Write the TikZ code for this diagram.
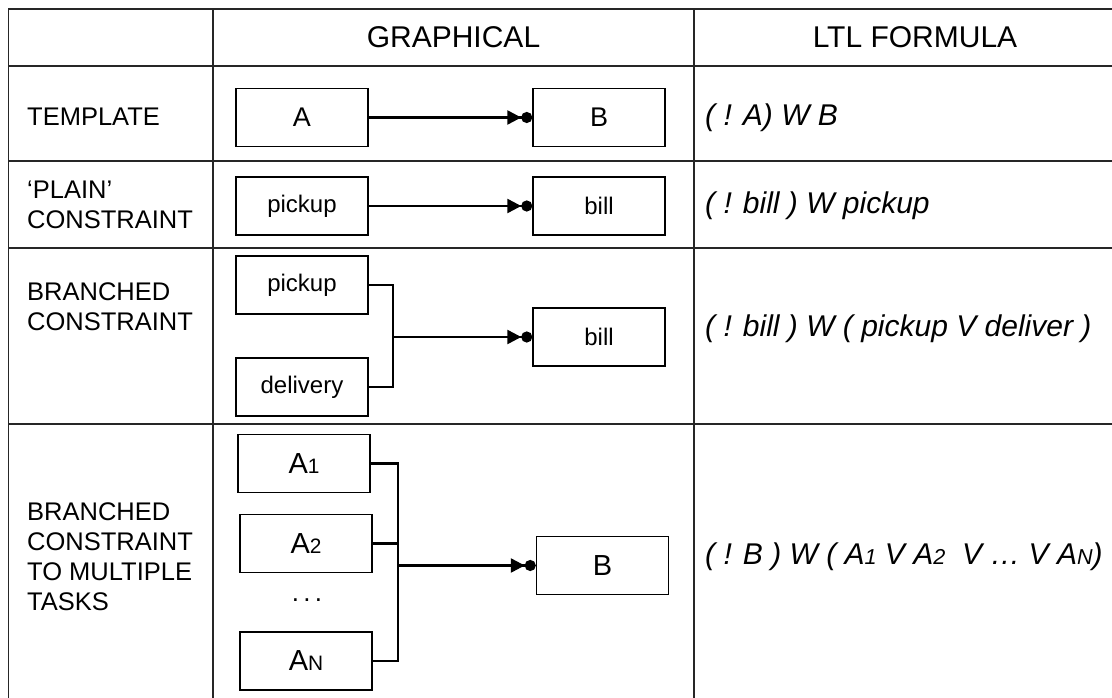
\documentclass[tikz,border=0pt]{standalone}
\usepackage{fontspec}
\setmainfont{Liberation Sans}
\usepackage{graphicx}
\usetikzlibrary{positioning,arrows.meta}
\newcommand{\subtask}[1]{\scalebox{0.72}{#1}}

\begin{document}
\begin{tikzpicture}[x=1pt,y=-1pt,
  grid/.style={line width=1.5pt, draw=black!85},
  task/.style={draw, line width=1.5pt, minimum width=132pt, minimum height=58pt, inner sep=0pt, font=\fontsize{24}{28}\selectfont},
  bigtask/.style={task, font=\fontsize{27}{32}\selectfont},
  multitask/.style={task, font=\fontsize{29}{32}\selectfont},
  rowhead/.style={anchor=west, align=left, inner sep=0pt, font=\fontsize{25.5}{30}\selectfont},
  colhead/.style={inner sep=0pt, font=\fontsize{30}{34}\selectfont},
  ltl/.style={anchor=west, inner sep=0pt, font=\fontsize{30}{34}\selectfont\itshape},
  link/.style={line width=2.6pt},
  resp/.style={link, -{Triangle[length=14pt,width=14pt]Circle[length=11pt]}}]
  \useasboundingbox (0,0) rectangle (1112,698);
  % table grid
  \foreach \y in {9,66,161,248,424}
    \draw[grid] (8,\y) -- (1112,\y);
  \foreach \x in {8.5,213,694}
    \draw[grid] (\x,9) -- (\x,698);
  \node[colhead] (hgraph) at (453.5,37) {GRAPHICAL};
  \node[colhead] (hltl) at (915,37) {LTL FORMULA};
  % row labels
  \node[rowhead] (rtempl) at (27,117) {TEMPLATE};
  \node[rowhead] (rplain) at (27,205) {‘PLAIN’\\CONSTRAINT};
  \node[rowhead] (rbranch) at (27,307) {BRANCHED\\CONSTRAINT};
  \node[rowhead] (rmulti) at (27,557) {BRANCHED\\CONSTRAINT\\TO MULTIPLE\\TASKS};
  % template
  \node[bigtask] (ta) at (302,117.5) {A};
  \node[bigtask] (tb) at (599,117.5) {B};
  \draw[resp] (ta) -- (tb);
  % plain constraint
  \node[task] (pp) at (302,206) {pickup};
  \node[task] (pb) at (599,206) {bill};
  \draw[resp] (pp) -- (pb);
  % branched constraint
  \node[task] (bp) at (302,285) {pickup};
  \node[task] (bd) at (302,387) {delivery};
  \node[task] (bb) at (599,337) {bill};
  \coordinate (bj) at (393,337);
  \draw[link] (bp.east) -| (bj) |- (bd.east);
  \draw[resp] (bj) -- (bb);
  % multiple tasks
  \node[multitask] (m1) at (304,463.5) {A\subtask{1}};
  \node[multitask] (m2) at (306,543.5) {A\subtask{2}};
  \node[inner sep=0pt, font=\fontsize{26}{28}\selectfont] (mdots) at (307,600) {.\,.\,.};
  \node[multitask] (mn) at (306,661) {A\subtask{N}};
  \node[multitask] (mb) at (602.5,565.5) {B};
  \coordinate (mj) at (398,565.5);
  \draw[link] (m1.east) -| (mj) |- (mn.east);
  \draw[link] (m2.east) -| (mj);
  \draw[resp] (mj) -- (mb);
  % formulas
  \node[ltl] (f1) at (705,118) {( ! A) W B};
  \node[ltl] (f2) at (705,206) {( ! bill ) W pickup};
  \node[ltl] (f3) at (705,329) {( ! bill ) W ( pickup V deliver )};
  \node[ltl] (f4) at (705,557) {( ! B ) W ( A\subtask{1} V A\subtask{2} \ V \dots{} V A\subtask{N})};
\end{tikzpicture}
\end{document}
